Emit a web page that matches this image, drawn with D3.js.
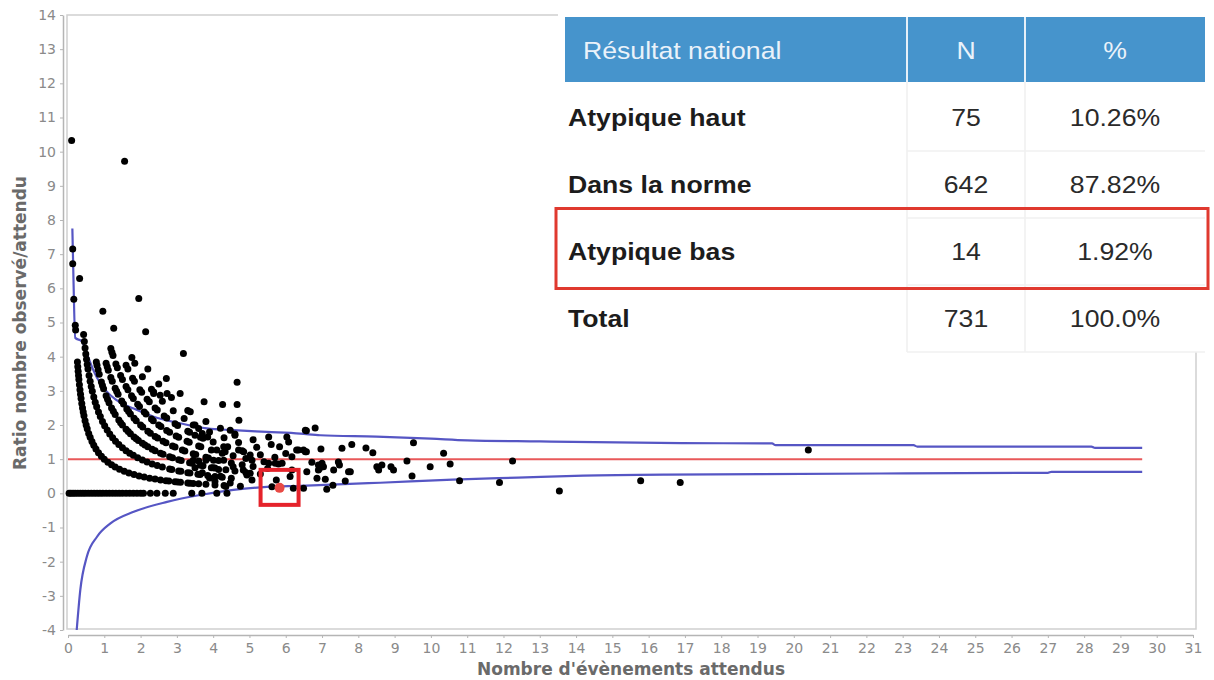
<!DOCTYPE html>
<html>
<head>
<meta charset="utf-8">
<script src="https://cdn.jsdelivr.net/npm/d3@7"></script>
<style>
  body { margin: 0; background: #fff; }
  svg { display: block; }
</style>
</head>
<body>
<script>
"use strict";

// axis ticks
var xTickValues = [0,1,2,3,4,5,6,7,8,9,10,11,12,13,14,15,16,17,18,19,20,21,22,23,24,25,26,27,28,29,30,31];
var yTickValues = [-4,-3,-2,-1,0,1,2,3,4,5,6,7,8,9,10,11,12,13,14];

// expected counts for establishments with a given observed count (ratio = observed / expected)
var expectedObs0 = [0.03,0.08,0.14,0.2,0.27,0.34,0.41,0.48,0.56,0.64,0.72,0.8,0.88,0.96,1.05,1.14,1.23,1.32,1.41,1.5,1.6,1.7,1.8,1.9,2.0,2.08,2.27,2.45,2.68,2.9,3.41,3.69,4.1,4.38];
var expectedObs1 = [0.26,0.27,0.28,0.29,0.3,0.315,0.33,0.345,0.36,0.38,0.4,0.42,0.44,0.47,0.5,0.53,0.57,0.61,0.66,0.71,0.77,0.84,0.92,1.0,1.1,1.2,1.3,1.42,1.55,1.68,1.82,1.96,2.1,2.25,2.4,2.55,2.7,2.78,2.95,3.02,3.1,3.3,3.36,3.45,3.6,3.8,4.05,4.3,4.75];
var expectedObs2 = [0.43,0.45,0.47,0.49,0.51,0.53,0.55,0.58,0.61,0.64,0.67,0.71,0.75,0.79,0.84,0.89,0.95,1.01,1.08,1.15,1.23,1.31,1.4,1.5,1.6,1.7,1.8,1.92,2.05,2.18,2.32,2.46,2.6,2.8,2.86,3.05,3.11,3.3,3.36,3.58,3.64,3.85,4.05,4.25,4.5];
var expectedObs3 = [0.78,0.8,0.83,0.86,0.92,0.95,0.98,1.05,1.09,1.13,1.2,1.25,1.3,1.4,1.45,1.5,1.6,1.66,1.72,1.82,1.88,1.94,2.05,2.12,2.2,2.32,2.4,2.55,2.62,2.8,2.88,3.05,3.12,3.35,3.42,3.65,3.72,4.0,4.05,4.35,4.6,4.9,5.3];
var expectedObs4 = [1.05,1.08,1.11,1.18,1.22,1.3,1.34,1.38,1.48,1.53,1.62,1.67,1.72,1.82,1.88,2.0,2.06,2.2,2.27,2.4,2.47,2.62,2.7,2.88,2.95,3.15,3.22,3.45,3.52,3.8,3.87,4.15,4.5,4.8,5.1,5.5];
var expectedObs5 = [1.18,1.21,1.24,1.32,1.36,1.45,1.5,1.6,1.65,1.75,1.8,1.92,1.97,2.1,2.15,2.3,2.35,2.5,2.56,2.72,2.8,2.98,3.05,3.28,3.34,3.6,3.66,3.95,4.25,4.55,4.9,5.4,5.8];
var expectedObs6 = [1.6,1.65,1.78,1.83,1.98,2.03,2.18,2.24,2.4,2.46,2.65,2.72,2.95,3.02,3.3,3.35,3.65,3.72,4.0,4.4,4.8,5.3,5.7];
var expectedObs7 = [1.76,1.84,2.05,2.3,2.36,2.6,2.9,3.2,3.5,3.9,4.3,4.7,5.2,6.0];
var expectedObs8 = [2.2,2.5,2.85,3.3,3.8,4.2,4.6,5.1,5.6,6.3];

// other points: [expected, ratio]
var otherPoints = [
  [0.1,10.33],[1.56,9.72],[0.13,7.15],[0.13,6.72],[0.32,6.29],[0.16,5.68],[0.96,5.33],[1.95,5.7],
  [1.26,4.83],[2.14,4.73],[0.2,4.92],[0.21,4.78],[3.18,4.09],[4.66,3.25],[2.71,3.36],[3.75,2.68],
  [4.26,2.6],[4.66,2.6],[4.71,2.14],[3.37,2.39],[2.36,2.92],[2.54,2.87],[2.73,2.92],[3.09,2.92],
  [3.45,2.0],[3.6,1.9],[3.7,1.75],[3.5,1.7],[3.85,1.65],[4.47,1.85],[4.6,1.7],[5.53,1.65],
  [6.03,1.65],[6.08,1.5],[6.54,1.85],[6.81,1.91],[5.83,1.36],[4.1,1.27],[4.29,1.36],[4.33,1.22],
  [4.7,1.27],[4.84,1.22],[5.02,1.12],[5.07,0.97],[6.35,1.27],[6.54,1.22],[6.17,1.07],[3.45,0.97],
  [3.6,0.95],[3.8,0.97],[4.01,0.97],[4.29,0.97],[5.53,0.88],[5.71,0.88],[5.9,0.88],[4.55,0.78],
  [4.83,0.68],[4.93,0.54],[5.02,0.59],[5.07,0.39],[6.17,0.68],[6.12,0.49],[6.58,0.63],[5.74,0.39],
  [5.62,0.19],[6.21,0.15],[3.9,0.45],[4.05,0.35],[4.2,0.5],[4.35,0.2],[4.47,0.3],[4.15,0.7],
  [3.95,0.75],[3.7,0.6],[3.5,0.75],[6.57,1.83],[6.49,1.27],[6.57,1.22],[6.97,1.3],[7.55,1.32],
  [7.82,1.43],[8.21,1.33],[8.4,1.19],[9.52,1.48],[10.35,1.17],[9.34,0.95],[10.53,0.86],[9.98,0.78],
  [6.72,0.91],[6.9,0.83],[7.0,0.88],[7.04,0.78],[6.9,0.68],[6.93,0.73],[7.32,0.68],[7.45,0.92],
  [7.48,0.83],[7.73,0.63],[7.78,0.63],[8.51,0.78],[8.56,0.68],[8.65,0.83],[8.9,0.78],[8.97,0.68],
  [6.86,0.44],[7.09,0.41],[7.3,0.24],[7.64,0.36],[7.13,0.12],[9.48,0.51],[10.79,0.37],[6.49,0.15],
  [11.89,0.32],[12.25,0.95],[13.54,0.07],[15.78,0.37],[16.87,0.32],[20.4,1.27]
];

// highlighted establishment
var highlightPoint = [5.83, 0.16];

// control limits [expected, ratio]
var upperLimit = [[0.12,7.75],[0.14,6.8],[0.2,4.55],[0.38,4.45],[0.55,4.0],[0.7,3.6],[0.9,3.2],[1.17,2.87],[1.45,2.65],[1.81,2.48],[2.36,2.24],[3.09,2.05],[3.83,1.9],[4.56,1.85],[5.48,1.8],[6.4,1.75],[6.95,1.7],[8.5,1.66],[10.0,1.6],[11.0,1.55],[13,1.52],[16.9,1.47],[19.4,1.46],[19.5,1.41],[23.3,1.41],[23.4,1.37],[28.2,1.37],[28.3,1.33],[29.6,1.33]];
var lowerLimit = [[0.24,-4],[0.34,-2.82],[0.52,-1.85],[0.8,-1.27],[1.17,-0.88],[1.81,-0.54],[2.73,-0.25],[3.64,-0.05],[4.56,0.1],[5.48,0.19],[6.4,0.22],[8.6,0.31],[10.6,0.4],[12.4,0.46],[14.2,0.52],[16.5,0.55],[19.1,0.56],[22.4,0.58],[27,0.6],[27.1,0.63],[29.6,0.63]];
var targetLine = [[0,1],[29.6,1]];

// summary table
var tableHeader = ["Résultat national", "N", "%"];
var rowLabels = ["Atypique haut", "Dans la norme", "Atypique bas", "Total"];
var rowCounts = ["75", "642", "14", "731"];
var rowPercents = ["10.26%", "87.82%", "1.92%", "100.0%"];
var highlightRow = "Atypique bas";

(function() {
  var width = 1214, height = 680;

  var svg = d3.select("body").append("svg")
    .attr("width", width)
    .attr("height", height);

  var x = d3.scaleLinear().domain([0, 31]).range([68, 1193]);
  var y = d3.scaleLinear().domain([-4, 14]).range([630, 15]);

  // plot frame
  svg.append("rect")
    .attr("x", 67).attr("y", 15)
    .attr("width", 1129).attr("height", 614)
    .attr("fill", "none")
    .attr("stroke", "#cfcfcf")
    .attr("stroke-width", 1.5);

  // axes (plain hyphen for negatives, like the original)
  var fmt = function(d) { return String(d); };
  var yAxis = svg.append("g")
    .attr("transform", "translate(63,0)")
    .call(d3.axisLeft(y).tickValues(yTickValues).tickFormat(fmt).tickSize(3).tickSizeOuter(0).tickPadding(4));
  var xAxis = svg.append("g")
    .attr("transform", "translate(0,635)")
    .call(d3.axisBottom(x).tickValues(xTickValues).tickFormat(fmt).tickSize(3).tickSizeOuter(0).tickPadding(5));

  [xAxis, yAxis].forEach(function(g) {
    g.select(".domain").attr("stroke", "#b5b5b5").attr("stroke-width", 1.5);
    g.selectAll(".tick line").attr("stroke", "#b5b5b5");
    g.selectAll(".tick text")
      .attr("fill", "#8a8a8a")
      .style("font-family", "'DejaVu Sans', sans-serif")
      .style("font-size", "14px");
  });

  svg.append("text")
    .attr("x", 631).attr("y", 669)
    .attr("text-anchor", "middle")
    .attr("dominant-baseline", "central")
    .attr("fill", "#6a6a6a")
    .style("font-family", "'DejaVu Sans', sans-serif")
    .style("font-weight", "bold")
    .style("font-size", "17px")
    .text("Nombre d'évènements attendus");

  svg.append("text")
    .attr("transform", "translate(20,323) rotate(-90)")
    .attr("text-anchor", "middle")
    .attr("dominant-baseline", "central")
    .attr("fill", "#6a6a6a")
    .style("font-family", "'DejaVu Sans', sans-serif")
    .style("font-weight", "bold")
    .style("font-size", "17px")
    .text("Ratio nombre observé/attendu");

  // lines
  var line = d3.line()
    .x(function(d) { return x(d[0]); })
    .y(function(d) { return y(d[1]); });
  var smooth = d3.line()
    .curve(d3.curveMonotoneX)
    .x(function(d) { return x(d[0]); })
    .y(function(d) { return y(d[1]); });

  svg.append("path").datum(targetLine)
    .attr("d", line).attr("fill", "none")
    .attr("stroke", "#e8585a").attr("stroke-width", 2);
  [upperLimit, lowerLimit].forEach(function(lim) {
    svg.append("path").datum(lim)
      .attr("d", smooth).attr("fill", "none")
      .attr("stroke", "#5656c4").attr("stroke-width", 2.2);
  });

  // points
  var series = [expectedObs0, expectedObs1, expectedObs2, expectedObs3, expectedObs4,
                expectedObs5, expectedObs6, expectedObs7, expectedObs8];
  var points = [];
  series.forEach(function(list, obs) {
    list.forEach(function(e) { points.push([e, obs / e]); });
  });
  otherPoints.forEach(function(p) { points.push(p); });

  svg.append("g").selectAll("circle")
    .data(points)
    .enter()
    .append("circle")
      .attr("cx", function(d) { return x(d[0]); })
      .attr("cy", function(d) { return y(d[1]); })
      .attr("r", 3.5)
      .attr("fill", "#000");

  svg.append("circle")
    .attr("cx", x(highlightPoint[0]))
    .attr("cy", y(highlightPoint[1]))
    .attr("r", 5)
    .attr("fill", "#e84a45");
  svg.append("rect")
    .attr("x", x(highlightPoint[0]) - 19)
    .attr("y", y(highlightPoint[1]) - 18)
    .attr("width", 38).attr("height", 35)
    .attr("fill", "none")
    .attr("stroke", "#e5232b")
    .attr("stroke-width", 4);

  // TABLE ************************************************
  var table = svg.append("g");
  table.append("rect")
    .attr("x", 558).attr("y", 0)
    .attr("width", 656).attr("height", 352)
    .attr("fill", "#fff");

  var colX = d3.scaleOrdinal().domain(tableHeader).range([565, 907, 1025]);
  var colEnd = 1205;
  var colCenter = function(i) {
    var start = colX(tableHeader[i]);
    var end = i < 2 ? colX(tableHeader[i + 1]) : colEnd;
    return (start + end) / 2;
  };
  var rowY = d3.scaleBand().domain(rowLabels).range([84, 352]);

  table.append("rect")
    .attr("x", 565).attr("y", 17)
    .attr("width", colEnd - 565).attr("height", 65)
    .attr("fill", "#4694cc");

  // faint cell borders
  [907, 1025].forEach(function(cx) {
    table.append("line")
      .attr("x1", cx).attr("x2", cx).attr("y1", 82).attr("y2", 352)
      .attr("stroke", "#efefef").attr("stroke-width", 1.5);
    table.append("line")
      .attr("x1", cx).attr("x2", cx).attr("y1", 17).attr("y2", 82)
      .attr("stroke", "#e6f0f8").attr("stroke-width", 2);
  });
  rowLabels.forEach(function(r) {
    table.append("line")
      .attr("x1", 907).attr("x2", colEnd)
      .attr("y1", rowY(r) + rowY.bandwidth()).attr("y2", rowY(r) + rowY.bandwidth())
      .attr("stroke", "#f0f0f0").attr("stroke-width", 1.5);
  });

  function addText(tx, ty, str, anchor, weight, fill) {
    table.append("text")
      .attr("transform", "translate(" + tx + "," + ty + ") scale(1.11,1)")
      .attr("text-anchor", anchor)
      .attr("dominant-baseline", "central")
      .attr("fill", fill)
      .style("font-family", "'Liberation Sans', Arial, sans-serif")
      .style("font-weight", weight)
      .style("font-size", "24px")
      .text(str);
  }

  addText(583, 50, tableHeader[0], "start", "normal", "#eaf2fa");
  addText(colCenter(1), 50, tableHeader[1], "middle", "normal", "#eaf2fa");
  addText(colCenter(2), 50, tableHeader[2], "middle", "normal", "#eaf2fa");

  rowLabels.forEach(function(r, i) {
    var cy = rowY(r) + rowY.bandwidth() / 2;
    addText(568, cy, r, "start", "bold", "#1c1c1c");
    addText(colCenter(1), cy, rowCounts[i], "middle", "normal", "#2a2a2a");
    addText(colCenter(2), cy, rowPercents[i], "middle", "normal", "#2a2a2a");
  });

  // red box round the highlighted row
  table.append("rect")
    .attr("x", 556)
    .attr("y", rowY(highlightRow) + rowY.bandwidth() / 2 - 43)
    .attr("width", 652).attr("height", 80)
    .attr("fill", "none")
    .attr("stroke", "#e0392f")
    .attr("stroke-width", 3);
})();
</script>
</body>
</html>
